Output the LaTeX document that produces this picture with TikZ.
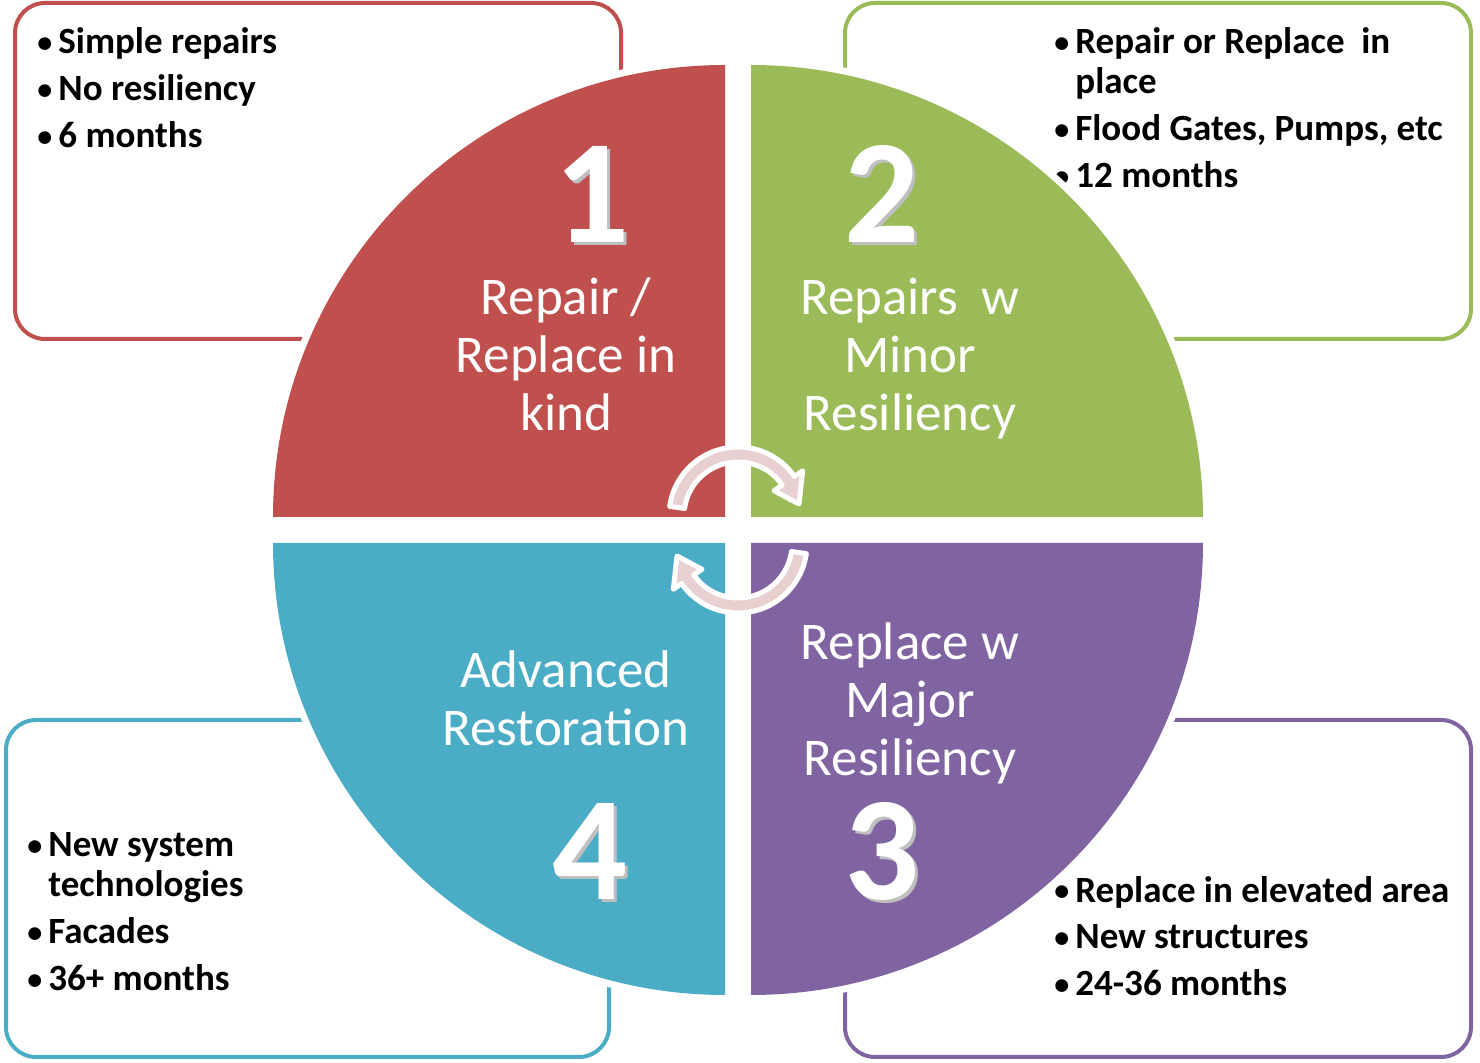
\documentclass[tikz,border=0pt]{standalone}
\usepackage{fontspec}
\setmainfont{Carlito}
\definecolor{qred}{HTML}{C0504D}
\definecolor{qgreen}{HTML}{9BBB59}
\definecolor{qpurple}{HTML}{8064A2}
\definecolor{qblue}{HTML}{4BACC6}
\definecolor{cyclepink}{RGB}{232,208,209}
\newcommand{\bul}{\makebox[11pt][l]{\hspace{0.5pt}\raisebox{0.6pt}{\fontsize{15}{15}\selectfont\textbullet}}}
\newcommand{\emboss}[1]{\makebox[0pt][l]{\hspace{1.5pt}\raisebox{-1.5pt}{\color{black!25}#1}}#1}
\begin{document}
\begin{tikzpicture}
	[x=0.5pt,y=0.5pt,
	 infobox/.style={draw,line width=2pt,rounded corners=15pt},
	 bullets/.style={anchor=base west,inner sep=0,align=left,font=\bfseries\fontsize{18.5}{20}\selectfont},
	 quarter/.style={preaction={draw=white,line width=7pt}},
	 caption/.style={anchor=base,inner sep=0,align=center,text=white,font=\fontsize{26.5}{29}\selectfont},
	 bignum/.style={anchor=base,inner sep=0,text=white,font=\bfseries\fontsize{74}{74}\selectfont},
	 cyclearrow/.style={fill=cyclepink,draw=white,line width=2.5pt,line join=round}]
    \useasboundingbox (0,0) rectangle (1480,-1063);
    % boxes behind the circle
    \draw [infobox,qred] (15,-3) rectangle (621,-339);
    \draw [infobox,qgreen] (845,-3) rectangle (1471,-339);
    \draw [infobox,qblue] (6,-720) rectangle (609,-1057);
    \draw [infobox,qpurple] (845,-720) rectangle (1471,-1057);
    % anchored at the baseline of the last line
    \node[bullets] (T1) at (36,-148) {\bul Simple repairs\\[3.5pt] \bul No resiliency\\[3.5pt] \bul 6 months};
    \node[bullets] (T2) at (1053,-188) {\bul Repair or Replace~~in\\ \hspace*{11pt}place\\[3.5pt] \bul Flood Gates, Pumps, etc\\[3.5pt] \bul 12 months};
    \node[bullets] (T3) at (1053,-996) {\bul Replace in elevated area\\[3.5pt] \bul New structures\\[3.5pt] \bul 24-36 months};
    \node[bullets] (T4) at (26,-991) {\bul New system\\ \hspace*{11pt}technologies\\[3.5pt] \bul Facades\\[3.5pt] \bul 36+ months};
    % the four quarters
    \coordinate (C1) at (725,-517);
    \coordinate (C2) at (751,-517);
    \coordinate (C3) at (751,-543);
    \coordinate (C4) at (725,-543);
    \path[quarter,fill=qred] (C1) -- ++(-452,0) arc[start angle=180,end angle=90,radius=452] -- cycle;
    \path[quarter,fill=qgreen] (C2) -- ++(0,452) arc[start angle=90,end angle=0,radius=452] -- cycle;
    \path[quarter,fill=qpurple] (C3) -- ++(452,0) arc[start angle=0,end angle=-90,radius=452] -- cycle;
    \path[quarter,fill=qblue] (C4) -- ++(0,-452) arc[start angle=270,end angle=180,radius=452] -- cycle;
    \node[bignum] (N1) at (592,-243) {\emboss{1}};
    \node[bignum] (N2) at (882,-243) {\emboss{2}};
    \node[bignum] (N3) at (882,-900) {\emboss{3}};
    \node[bignum] (N4) at (590,-900) {\emboss{4}};
    \node[caption] (L1) at (566,-431) {Repair /\\Replace in\\kind};
    \node[caption] (L2) at (910,-431) {Repairs~~w\\Minor\\Resiliency};
    \node[caption] (L3) at (910,-776) {Replace w\\Major\\Resiliency};
    \node[caption] (L4) at (566,-746) {Advanced\\Restoration};
    % cycle arrows in the middle
    \foreach \cx/\cy/\rot in {738/-516/0, 738/-544/180}
      \draw[cyclearrow,shift={(\cx,\cy)},rotate=\rot] (172:69) arc[start angle=172,end angle=35,radius=69]
        -- (35:79) -- (61,12) -- (35:44) -- (35:54) arc[start angle=35,end angle=172,radius=54] -- cycle;
\end{tikzpicture}
\end{document}
